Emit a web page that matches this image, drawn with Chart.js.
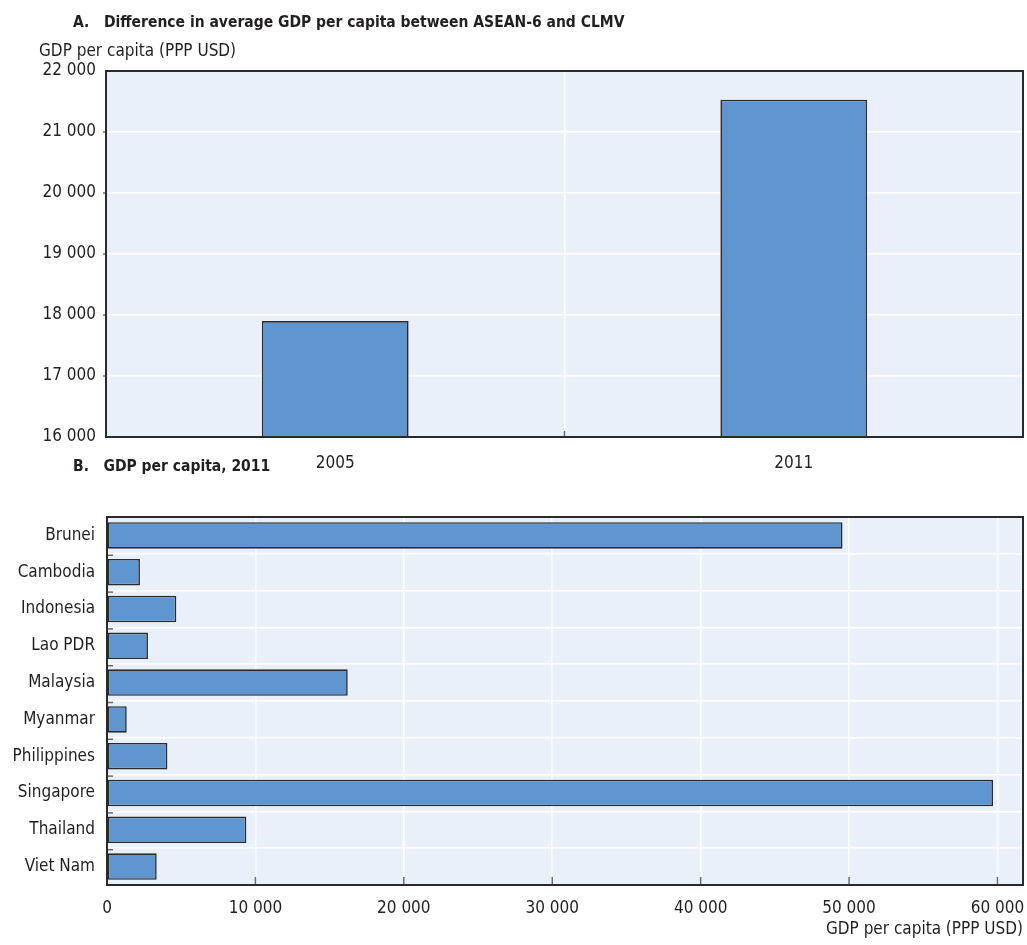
<!DOCTYPE html>
<html>
<head>
<meta charset="utf-8">
<script src="https://cdn.jsdelivr.net/npm/chart.js@4.4.1/dist/chart.umd.min.js"></script>
<style>
  html, body { margin: 0; padding: 0; background: #fff; }
  body { width: 1027px; height: 945px; position: relative; overflow: hidden;
         font-family: "DejaVu Sans Condensed", "Liberation Sans", sans-serif; color: #231f20; }
  .panel-title { position: absolute; font-weight: bold; font-size: 15.5px; white-space: pre; z-index: 2; }
  .axis-note { position: absolute; font-size: 17px; white-space: nowrap; z-index: 2; }
  canvas { position: absolute; left: 0; }
</style>
</head>
<body>
<canvas id="chartA" style="top:0px;" width="1027" height="480"></canvas>
<canvas id="chartB" style="top:480px;" width="1027" height="465"></canvas>
<div class="panel-title" style="left:73px; top:13px;">A.   Difference in average GDP per capita between ASEAN-6 and CLMV</div>
<div class="axis-note" style="left:39px; top:40px;">GDP per capita (PPP USD)</div>
<div class="panel-title" style="left:73px; top:457px;">B.   GDP per capita, 2011</div>
<script>
// Panel A: gap in average GDP per capita, ASEAN-6 vs CLMV
const gapYears = ['2005', '2011'];
const gapValues = [17900, 21530];
const gapAxisMin = 16000;
const gapAxisMax = 22000;
const gapAxisStep = 1000;

// Panel B: GDP per capita by country, 2011
const countries = ['Brunei', 'Cambodia', 'Indonesia', 'Lao PDR', 'Malaysia',
                   'Myanmar', 'Philippines', 'Singapore', 'Thailand', 'Viet Nam'];
const gdpPerCapita2011 = [49560, 2220, 4670, 2760, 16220, 1330, 4070, 59700, 9390, 3350];
const countryTicks = [0, 10000, 20000, 30000, 40000, 50000, 60000];
const countryAxisMax = 61720;

const axisTitle = 'GDP per capita (PPP USD)';

const FONT = '"DejaVu Sans Condensed", "Liberation Sans", sans-serif';
const FONT_SIZE = 17;
const TEXT = '#231f20';
const BAR_FILL = '#5f96cf';
const BAR_EDGE = '#2a2a2a';
const PLOT_BG = '#eaf0f9';

// thousands separated by a space
const fmt = v => Math.round(v).toString().replace(/\B(?=(\d{3})+(?!\d))/g, ' ');

// plot background, frame and short tick marks along the frame
const framePlugin = {
  id: 'frame',
  beforeDraw(chart) {
    const { ctx, chartArea: a } = chart;
    ctx.save();
    ctx.fillStyle = PLOT_BG;
    ctx.fillRect(a.left, a.top, a.right - a.left, a.bottom - a.top);
    ctx.restore();
  },
  afterDraw(chart, args, opts) {
    const { ctx, chartArea: a } = chart;
    ctx.save();
    ctx.strokeStyle = '#6b6b6b';
    ctx.lineWidth = 1.5;
    (opts.marks || []).forEach(m => {
      const sc = chart.scales[m.scale];
      const pos = [];
      if (m.boundaries) {
        const step = sc.getPixelForTick(1) - sc.getPixelForTick(0);
        for (let i = 0; i <= sc.ticks.length; i++) pos.push(sc.getPixelForTick(0) + (i - 0.5) * step);
      } else {
        for (let i = 0; i < sc.ticks.length; i++) pos.push(sc.getPixelForTick(i));
      }
      pos.forEach(p => {
        ctx.beginPath();
        if (m.side === 'bottom') {
          if (p <= a.left + 1 || p >= a.right - 1) return;
          ctx.moveTo(p, a.bottom); ctx.lineTo(p, a.bottom - m.len);
        } else if (m.side === 'left-in') {
          if (p <= a.top + 1 || p >= a.bottom - 1) return;
          ctx.moveTo(a.left, p + 1.5); ctx.lineTo(a.left + m.len, p + 1.5);
        } else {
          if (p <= a.top + 1 || p >= a.bottom - 1) return;
          ctx.moveTo(a.left, p); ctx.lineTo(a.left - m.len, p);
        }
        ctx.stroke();
      });
    });
    ctx.strokeStyle = '#2a2a2a';
    ctx.lineWidth = 2;
    ctx.strokeRect(a.left, a.top, a.right - a.left, a.bottom - a.top);
    ctx.restore();
  }
};

Chart.defaults.font.family = FONT;
Chart.defaults.font.size = FONT_SIZE;
Chart.defaults.color = TEXT;

new Chart(document.getElementById('chartA'), {
  type: 'bar',
  data: {
    labels: gapYears,
    datasets: [{
      data: gapValues,
      backgroundColor: BAR_FILL,
      borderColor: BAR_EDGE,
      borderWidth: 1.6,
      borderSkipped: false,
      barPercentage: 0.32,
      categoryPercentage: 1
    }]
  },
  options: {
    responsive: false,
    animation: false,
    layout: { padding: { top: 71, right: 4, left: 0, bottom: 0 } },
    plugins: {
      legend: { display: false },
      tooltip: { enabled: false },
      frame: { marks: [
        { scale: 'x', side: 'bottom', len: 6, boundaries: true },
        { scale: 'y', side: 'left-out', len: 3 }
      ] }
    },
    scales: {
      x: {
        grid: { color: '#ffffff', lineWidth: 1.5, offset: true, drawTicks: false },
        border: { display: false },
        ticks: { color: TEXT, padding: 16, maxRotation: 0 },
        afterFit(s) { s.height = 43; s.paddingLeft = 0; s.paddingRight = 0; }
      },
      y: {
        min: gapAxisMin, max: gapAxisMax,
        grid: { color: '#ffffff', lineWidth: 1.5, drawTicks: false },
        border: { display: false },
        ticks: { stepSize: gapAxisStep, color: TEXT, padding: 10, callback: v => fmt(v) },
        afterFit(s) { s.width = 106; }
      }
    }
  },
  plugins: [framePlugin]
});

new Chart(document.getElementById('chartB'), {
  type: 'bar',
  data: {
    labels: countries,
    datasets: [{
      data: gdpPerCapita2011,
      backgroundColor: BAR_FILL,
      borderColor: BAR_EDGE,
      borderWidth: 1.6,
      borderSkipped: false,
      barPercentage: 0.72,
      categoryPercentage: 1
    }]
  },
  options: {
    indexAxis: 'y',
    responsive: false,
    animation: false,
    layout: { padding: { top: 37, right: 4, left: 0, bottom: 0 } },
    plugins: {
      legend: { display: false },
      tooltip: { enabled: false },
      frame: { marks: [
        { scale: 'x', side: 'bottom', len: 8 },
        { scale: 'y', side: 'left-in', len: 6, boundaries: true }
      ] }
    },
    scales: {
      x: {
        min: 0, max: countryAxisMax,
        afterBuildTicks(s) { s.ticks = countryTicks.map(v => ({ value: v })); },
        grid: { color: '#ffffff', lineWidth: 1.5, drawTicks: false },
        border: { display: false },
        ticks: {
          color: TEXT, padding: 13, autoSkip: false, maxRotation: 0, minRotation: 0,
          callback: v => fmt(v)
        },
        title: {
          display: true, text: axisTitle, align: 'end',
          color: TEXT, padding: { top: 0, bottom: 5 }
        },
        afterFit(s) { s.height = 60; s.paddingLeft = 0; s.paddingRight = 0; }
      },
      y: {
        grid: { color: '#ffffff', lineWidth: 1.5, offset: true, drawTicks: false },
        border: { display: false },
        ticks: { color: TEXT, padding: 12, autoSkip: false },
        afterFit(s) { s.width = 107; s.paddingTop = 0; s.paddingBottom = 0; }
      }
    }
  },
  plugins: [framePlugin]
});
</script>
</body>
</html>
